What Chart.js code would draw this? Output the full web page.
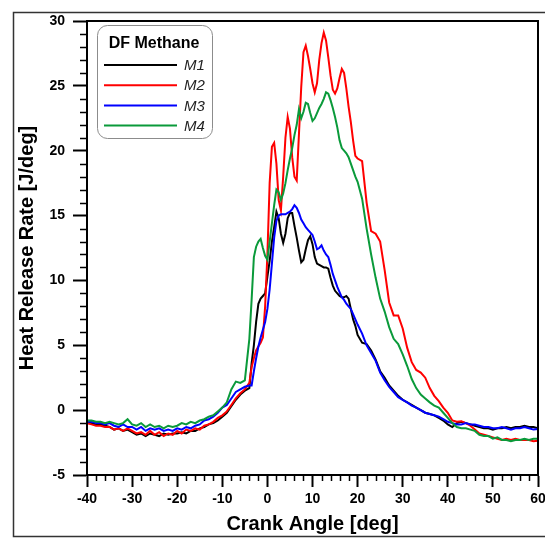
<!DOCTYPE html>
<html>
<head>
<meta charset="utf-8">
<script src="https://cdn.jsdelivr.net/npm/chart.js@4.4.1/dist/chart.umd.min.js"></script>
<style>
  html, body { margin: 0; padding: 0; background: #fff; }
  #wrap { width: 545px; height: 539px; overflow: hidden; }
  canvas { display: block; }
</style>
</head>
<body>
<div id="wrap"><canvas id="grafico" width="560" height="539"></canvas></div>
<script>
// Crank angle [deg]
const angulo = [
  -40,-39,-38,-37,-36,-35,-34,-33,-32,-31,-30,-29,-28,-27,-26,-25,-24,-23,-22,-21,
  -20,-19,-18,-17,-16,-15,-14,-13,-12,-11,-10,-9,-8,-7,-6,-5,-4,
  -3.5,-3,-2.5,-2,-1.5,-1,-0.5,0,0.5,1,1.5,2,2.5,3,3.5,4,4.5,5,5.5,6,6.5,7,7.5,8,
  8.5,9,9.5,10,10.5,11,11.5,12,12.5,13,13.5,14,14.5,15,15.5,16,16.5,17,17.5,18,18.5,19,19.5,20,
  21,22,23,24,25,26,27,28,29,30,31,32,33,34,35,36,37,38,39,40,
  41,42,43,44,45,46,47,48,49,50,51,52,53,54,55,56,57,58,59,60
];

// Heat release rate [J/deg]
const m1 = [
  -0.9,-1.0,-1.1,-1.1,-1.2,-1.3,-1.5,-1.4,-1.6,-1.5,-1.7,-1.9,-1.8,-2.0,-1.8,-1.9,-2.0,-1.8,-1.9,-1.8,
  -1.8,-1.7,-1.8,-1.6,-1.6,-1.4,-1.3,-1.1,-1.0,-0.8,-0.5,-0.2,0.3,0.8,1.2,1.5,1.7,
  3.6,5.0,6.8,8.2,8.6,8.8,9.0,10.3,11.5,13.0,14.1,15.3,14.8,13.6,12.9,13.6,14.8,15.2,15.2,14.2,13.3,12.3,11.4,11.6,
  12.4,13.1,13.4,12.8,11.8,11.3,11.2,11.1,11.0,11.0,10.9,10.2,9.6,9.2,9.0,8.8,8.7,8.7,8.8,8.6,7.8,7.0,6.5,5.8,
  5.2,5.1,4.6,3.9,3.0,2.5,1.9,1.5,1.1,0.8,0.6,0.4,0.2,0.0,-0.2,-0.3,-0.4,-0.6,-0.8,-1.1,
  -1.3,-1.0,-0.9,-1.0,-1.1,-1.2,-1.3,-1.4,-1.4,-1.5,-1.4,-1.4,-1.3,-1.4,-1.3,-1.3,-1.2,-1.3,-1.3,-1.4
];
const m2 = [
  -1.0,-1.1,-1.2,-1.2,-1.3,-1.3,-1.5,-1.4,-1.6,-1.4,-1.6,-1.8,-1.7,-1.9,-1.6,-1.9,-1.7,-2.0,-1.8,-1.9,
  -1.6,-1.8,-1.5,-1.6,-1.4,-1.5,-1.2,-1.1,-0.9,-0.6,-0.4,-0.1,0.4,0.9,1.3,1.6,2.1,
  3.3,4.0,4.6,4.9,5.2,5.6,8.0,12.0,17.5,20.3,20.6,19.0,16.2,15.4,18.0,21.0,22.6,21.7,19.5,18.0,17.7,21.3,24.9,27.6,
  28.1,27.3,26.3,25.2,24.5,25.2,27.0,28.3,29.1,28.5,27.2,25.8,24.7,24.4,24.8,25.6,26.3,26.0,24.8,23.4,22.2,20.8,19.6,19.4,
  19.2,16.0,13.8,13.6,13.0,10.8,8.3,7.3,7.3,6.3,4.8,3.7,3.1,2.9,2.5,1.7,1.1,0.7,0.2,-0.2,
  -0.8,-0.9,-0.85,-1.0,-1.2,-1.5,-1.8,-1.9,-2.0,-2.1,-2.2,-2.3,-2.2,-2.3,-2.2,-2.3,-2.3,-2.3,-2.4,-2.35
];
const m3 = [
  -0.9,-0.9,-1.0,-1.0,-1.1,-1.0,-1.2,-1.3,-1.1,-1.3,-1.3,-1.5,-1.3,-1.6,-1.4,-1.5,-1.4,-1.6,-1.5,-1.6,
  -1.4,-1.5,-1.3,-1.4,-1.2,-1.1,-0.8,-0.7,-0.5,-0.2,0.2,0.4,0.9,1.4,1.6,1.8,1.9,
  1.9,3.0,4.0,4.9,5.6,6.2,6.8,7.8,9.3,11.3,13.3,14.6,15.0,15.1,15.1,15.1,15.2,15.3,15.5,15.8,15.6,15.2,14.7,14.4,
  14.1,13.9,13.7,13.5,13.0,12.4,12.5,12.7,12.3,12.0,11.8,11.2,10.5,10.0,9.5,9.1,8.7,8.5,8.2,8.0,7.8,7.4,7.0,6.6,
  5.9,5.0,4.4,3.8,2.9,2.3,1.8,1.4,1.0,0.8,0.6,0.35,0.2,0.0,-0.2,-0.3,-0.4,-0.5,-0.7,-0.9,
  -1.0,-1.1,-1.1,-1.0,-1.1,-1.1,-1.2,-1.3,-1.3,-1.4,-1.4,-1.3,-1.4,-1.5,-1.4,-1.4,-1.3,-1.4,-1.5,-1.45
];
const m4 = [
  -0.8,-0.8,-0.9,-0.9,-1.0,-0.9,-1.0,-1.1,-1.0,-0.7,-1.1,-1.2,-1.0,-1.3,-1.1,-1.3,-1.2,-1.4,-1.2,-1.3,
  -1.2,-1.0,-1.1,-0.9,-1.0,-0.8,-0.7,-0.5,-0.4,-0.1,0.2,0.6,1.6,2.2,2.1,2.3,5.5,
  8.5,11.8,12.6,13.0,13.2,12.5,11.9,11.6,13.0,14.4,15.8,17.0,16.8,16.2,16.7,17.5,18.5,19.4,20.2,21.2,22.0,23.2,22.5,23.0,
  23.7,23.6,22.9,22.3,22.5,22.9,23.3,23.6,24.0,24.5,24.4,23.9,23.3,22.6,21.8,20.8,20.2,20.0,19.8,19.5,19.0,18.5,18.0,17.6,
  16.3,14.0,12.0,10.2,8.6,7.6,6.4,5.5,5.1,4.3,3.4,2.4,1.7,1.2,0.9,0.6,0.35,0.2,-0.2,-0.6,
  -1.0,-1.3,-1.4,-1.4,-1.5,-1.6,-1.9,-2.0,-2.0,-2.2,-2.1,-2.3,-2.3,-2.4,-2.3,-2.3,-2.2,-2.3,-2.2,-2.2
];

const series = ['M1', 'M2', 'M3', 'M4'];
const cores = ['#000000', '#ff0000', '#0000ff', '#0a9a3a'];
const tituloLegenda = 'DF Methane';

const fonte = '"Liberation Sans", Arial, sans-serif';
const pontos = vals => angulo.map((a, i) => ({ x: a, y: vals[i] }));

// moldura, ticks menores, borda da área e legenda
const extras = {
  id: 'extras',
  beforeDraw(chart) {
    const ctx = chart.ctx;
    ctx.save();
    ctx.fillStyle = '#fff';
    ctx.fillRect(0, 0, chart.width, chart.height);
    ctx.strokeStyle = '#333';
    ctx.lineWidth = 1.5;
    ctx.strokeRect(13.5, 12.5, 600, 524);
    ctx.restore();
  },
  afterDraw(chart) {
    const { ctx, chartArea: a, scales: { x, y } } = chart;
    ctx.save();
    ctx.strokeStyle = '#000';
    ctx.lineWidth = 1.5;
    ctx.beginPath();
    for (let v = -40; v <= 60; v += 2) {
      if (v % 10 === 0) continue;
      const px = Math.round(x.getPixelForValue(v)) + 0.5;
      ctx.moveTo(px, a.bottom);
      ctx.lineTo(px, a.bottom + 6);
    }
    for (let v = -5; v <= 30; v++) {
      if (v % 5 === 0) continue;
      const py = Math.round(y.getPixelForValue(v)) + 0.5;
      ctx.moveTo(a.left - 7, py);
      ctx.lineTo(a.left, py);
    }
    ctx.stroke();

    ctx.lineWidth = 2;
    ctx.strokeRect(a.left, a.top, a.right - a.left, a.bottom - a.top);

    // legenda
    ctx.lineWidth = 1;
    ctx.strokeStyle = '#8c8c8c';
    ctx.fillStyle = '#fff';
    ctx.beginPath();
    ctx.roundRect(97.5, 25.5, 115, 113, 10);
    ctx.fill();
    ctx.stroke();

    ctx.fillStyle = '#000';
    ctx.font = 'bold 16px ' + fonte;
    ctx.textAlign = 'center';
    ctx.textBaseline = 'middle';
    ctx.fillText(tituloLegenda, 154, 44);

    ctx.font = 'italic 15px ' + fonte;
    ctx.textAlign = 'left';
    series.forEach((nome, i) => {
      const yy = 65 + i * 20.2;
      ctx.strokeStyle = cores[i];
      ctx.lineWidth = 2;
      ctx.beginPath();
      ctx.moveTo(104, yy);
      ctx.lineTo(177, yy);
      ctx.stroke();
      ctx.fillStyle = '#222';
      ctx.fillText(nome, 184, yy + 1);
    });
    ctx.restore();
  }
};

new Chart(document.getElementById('grafico'), {
  type: 'line',
  data: {
    datasets: series.map((nome, i) => ({
      label: nome,
      data: pontos([m1, m2, m3, m4][i]),
      borderColor: cores[i],
      borderWidth: 2,
      pointRadius: 0,
      tension: 0,
      fill: false,
      order: 4 - i
    }))
  },
  options: {
    responsive: false,
    animation: false,
    devicePixelRatio: 1,
    layout: { padding: { left: 0, top: 21, right: 22, bottom: 0 } },
    plugins: {
      legend: { display: false },
      tooltip: { enabled: false }
    },
    scales: {
      x: {
        type: 'linear',
        min: -40,
        max: 60,
        afterFit: s => { s.height = 64; },
        ticks: {
          stepSize: 10,
          padding: 4,
          color: '#000',
          font: { family: fonte, size: 14, weight: 'bold' }
        },
        grid: { drawOnChartArea: false, tickLength: 12, tickWidth: 2, tickColor: '#000' },
        border: { color: '#000', width: 2 },
        title: {
          display: true,
          text: 'Crank Angle [deg]',
          color: '#000',
          padding: { top: 0, bottom: 3 },
          font: { family: fonte, size: 20, weight: 'bold' }
        }
      },
      y: {
        min: -5,
        max: 30,
        afterFit: s => { s.width = 87; },
        ticks: {
          stepSize: 5,
          padding: 8,
          color: '#000',
          font: { family: fonte, size: 14, weight: 'bold' }
        },
        grid: { drawOnChartArea: false, tickLength: 14, tickWidth: 2, tickColor: '#000' },
        border: { color: '#000', width: 2 },
        title: {
          display: true,
          text: 'Heat Release Rate [J/deg]',
          color: '#000',
          padding: { top: 15, bottom: 0 },
          font: { family: fonte, size: 20, weight: 'bold' }
        }
      }
    }
  },
  plugins: [extras]
});
</script>
</body>
</html>
